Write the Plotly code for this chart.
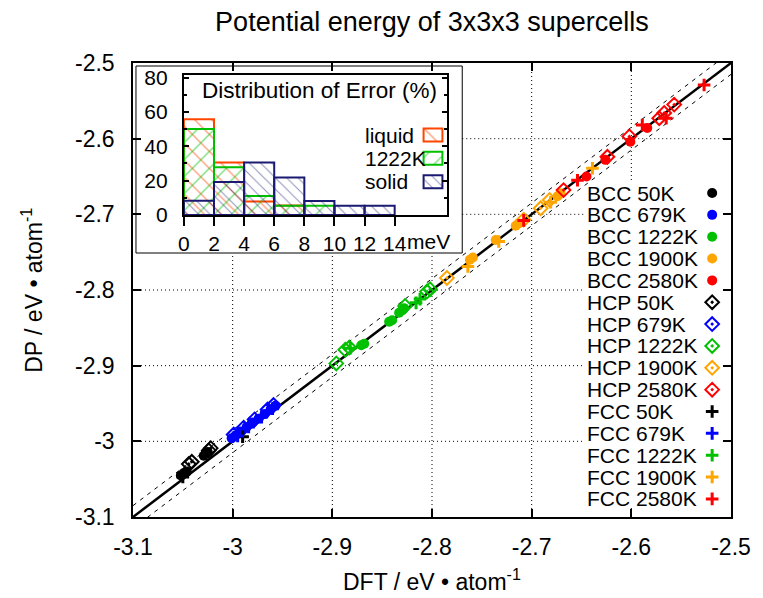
import plotly.graph_objects as go

# ---------------- data ----------------
axis_ticks = [-3.1, -3.0, -2.9, -2.8, -2.7, -2.6, -2.5]
axis_tick_labels = ["-3.1", "-3", "-2.9", "-2.8", "-2.7", "-2.6", "-2.5"]
grid_ticks = [-3.0, -2.9, -2.8, -2.7, -2.6]

series_labels = ["BCC 50K", "BCC 679K", "BCC 1222K", "BCC 1900K", "BCC 2580K",
                 "HCP 50K", "HCP 679K", "HCP 1222K", "HCP 1900K", "HCP 2580K",
                 "FCC 50K", "FCC 679K", "FCC 1222K", "FCC 1900K", "FCC 2580K"]

bcc_50k_dft = [-3.052, -3.049, -3.046, -3.029, -3.027, -3.025]
bcc_50k_dp = [-3.045, -3.042, -3.040, -3.019, -3.016, -3.014]
bcc_679k_dft = [-3.001, -2.997, -2.992, -2.986, -2.980, -2.974, -2.968, -2.962, -2.957]
bcc_679k_dp = [-2.996, -2.992, -2.987, -2.981, -2.975, -2.970, -2.964, -2.958, -2.953]
bcc_1222k_dft = [-2.871, -2.868, -2.843, -2.840, -2.833, -2.830, -2.828]
bcc_1222k_dp = [-2.873, -2.871, -2.842, -2.840, -2.830, -2.827, -2.824]
bcc_1900k_dft = [-2.762, -2.759, -2.736, -2.716, -2.713, -2.674, -2.671]
bcc_1900k_dp = [-2.760, -2.757, -2.734, -2.715, -2.712, -2.676, -2.672]
bcc_2580k_dft = [-2.645, -2.626, -2.601, -2.584]
bcc_2580k_dp = [-2.650, -2.628, -2.604, -2.586]

hcp_50k_dft = [-3.044, -3.041, -3.024, -3.022]
hcp_50k_dp = [-3.030, -3.027, -3.012, -3.009]
hcp_679k_dft = [-2.999, -2.989, -2.978, -2.965, -2.959]
hcp_679k_dp = [-2.991, -2.982, -2.971, -2.958, -2.952]
hcp_1222k_dft = [-2.896, -2.887, -2.883, -2.827, -2.805, -2.802]
hcp_1222k_dp = [-2.897, -2.879, -2.876, -2.821, -2.802, -2.799]
hcp_1900k_dft = [-2.785, -2.708, -2.691, -2.682]
hcp_1900k_dp = [-2.784, -2.707, -2.692, -2.681]
hcp_2580k_dft = [-2.668, -2.624, -2.602, -2.572, -2.567, -2.557]
hcp_2580k_dp = [-2.668, -2.624, -2.597, -2.573, -2.566, -2.555]

fcc_50k_dft = [-3.050, -2.990]
fcc_50k_dp = [-3.047, -2.994]
fcc_679k_dft = [-2.995, -2.984, -2.971, -2.960]
fcc_679k_dp = [-2.993, -2.981, -2.968, -2.957]
fcc_1222k_dft = [-2.882, -2.816, -2.812]
fcc_1222k_dp = [-2.877, -2.817, -2.812]
fcc_1900k_dft = [-2.764, -2.733, -2.681, -2.639]
fcc_1900k_dp = [-2.769, -2.736, -2.684, -2.639]
fcc_2580k_dft = [-2.708, -2.654, -2.589, -2.565, -2.527]
fcc_2580k_dp = [-2.708, -2.655, -2.582, -2.573, -2.529]

parity_offset = 0.015

error_bin_centers = [1, 3, 5, 7, 9, 11, 13]
error_liquid = [55.7, 30.5, 7.8, 5.5, None, None, None]
error_1222k = [50.1, 27.8, 11.1, 5.4, 5.4, None, None]
error_solid = [8.3, 19.2, 30.5, 21.9, 8.2, 5.4, 5.4]
error_ticks = [0, 2, 4, 6, 8, 10, 12, 14]
percent_ticks = [0, 20, 40, 60, 80]
hist_labels = ["liquid", "1222K", "solid"]

# ---------------- styles / geometry ----------------
W, H = 763, 598
L, R, T, B = 133, 736, 63, 517
XR = [-3.1, -2.5]
YR = [-3.1, -2.5]
FONT = "Liberation Sans, Arial, sans-serif"


def xp(px):
    return (px - L) / (R - L)


def yp(py):
    return (B - py) / (B - T)


def xv(px):
    return XR[0] + (px - L) / (R - L) * (XR[1] - XR[0])


def yv(py):
    return YR[1] - (py - T) / (B - T) * (YR[1] - YR[0])


# inset geometry (pixels)
IL, IR, IT, IB = 184.3, 450, 75, 215
IXR = [0, 17.5]
IYR = [0, 81.5]


def ixv(px):
    return IXR[0] + (px - IL) / (IR - IL) * (IXR[1] - IXR[0])


def iyv(py):
    return IYR[0] + (IB - py) / (IB - IT) * (IYR[1] - IYR[0])


colors = ["black", "#0000FF", "#00C000", "#FFA500", "#FF0000"]
hist_colors = ["#FF4500", "#00C000", "#1A1A72"]


def circ(c):
    return dict(symbol="circle", size=10, color=c, line=dict(width=0))


def diam(c):
    return dict(symbol="diamond-open-dot", size=10.5, color=c, line=dict(width=2, color=c))


def plus(c):
    return dict(symbol="cross-thin", size=9, color=c, line=dict(width=3, color=c))


series_xy = [
    (bcc_50k_dft, bcc_50k_dp), (bcc_679k_dft, bcc_679k_dp), (bcc_1222k_dft, bcc_1222k_dp),
    (bcc_1900k_dft, bcc_1900k_dp), (bcc_2580k_dft, bcc_2580k_dp),
    (hcp_50k_dft, hcp_50k_dp), (hcp_679k_dft, hcp_679k_dp), (hcp_1222k_dft, hcp_1222k_dp),
    (hcp_1900k_dft, hcp_1900k_dp), (hcp_2580k_dft, hcp_2580k_dp),
    (fcc_50k_dft, fcc_50k_dp), (fcc_679k_dft, fcc_679k_dp), (fcc_1222k_dft, fcc_1222k_dp),
    (fcc_1900k_dft, fcc_1900k_dp), (fcc_2580k_dft, fcc_2580k_dp),
]
styles = [circ(c) for c in colors] + [diam(c) for c in colors] + [plus(c) for c in colors]

fig = go.Figure()

# parity lines
fig.add_trace(go.Scatter(x=XR, y=[XR[0] + parity_offset, XR[1] + parity_offset], mode="lines",
                         line=dict(color="black", width=1, dash="4px,5px"), showlegend=False,
                         hoverinfo="skip"))
fig.add_trace(go.Scatter(x=XR, y=[XR[0] - parity_offset, XR[1] - parity_offset], mode="lines",
                         line=dict(color="black", width=1, dash="4px,5px"), showlegend=False,
                         hoverinfo="skip"))
fig.add_trace(go.Scatter(x=XR, y=YR, mode="lines", line=dict(color="black", width=2.5),
                         showlegend=False, hoverinfo="skip"))

for (sx, sy), st, name in zip(series_xy, styles, series_labels):
    fig.add_trace(go.Scatter(x=sx, y=sy, mode="markers", marker=st, name=name,
                             showlegend=False))

# manual key (symbols on the right, like the original)
row0, drow = 193, 21.85
annotations = []
for i, (st, name) in enumerate(zip(styles, series_labels)):
    py = row0 + drow * i
    fig.add_trace(go.Scatter(x=[xp(717)], y=[yp(py)], mode="markers", marker=st,
                             xaxis="x3", yaxis="y3", showlegend=False, hoverinfo="skip"))
    annotations.append(dict(x=xp(589), y=yp(py), xref="paper", yref="paper", text=name,
                            showarrow=False, xanchor="left", yanchor="middle",
                            font=dict(size=21, color="black", family=FONT)))

# inset histogram
hist_series = [(error_liquid, "\\", 12), (error_1222k, "/", 12), (error_solid, "\\", 8)]
for (vals, shape, sz), c, name in zip(hist_series, hist_colors, hist_labels):
    fig.add_trace(go.Bar(x=error_bin_centers, y=vals, width=2, xaxis="x2", yaxis="y2",
                         name=name, showlegend=False, opacity=1,
                         marker=dict(color="rgba(0,0,0,0)", line=dict(color=c, width=2),
                                     pattern=dict(shape=shape, fgcolor=c, size=sz, solidity=0.12,
                                                  fillmode="overlay", bgcolor="rgba(0,0,0,0)"))))

key_rows = [135, 158.3, 181.7]
for (vals, shape, sz), c, name, py in zip(hist_series, hist_colors, hist_labels, key_rows):
    x0, x1 = ixv(426), ixv(445)
    y0, y1 = iyv(py + 6.5), iyv(py - 6.5)
    fig.add_trace(go.Bar(x=[(x0 + x1) / 2], y=[y1 - y0], base=[y0], width=x1 - x0,
                         xaxis="x2", yaxis="y2", showlegend=False, hoverinfo="skip", opacity=1,
                         marker=dict(color="rgba(0,0,0,0)", line=dict(color=c, width=2),
                                     pattern=dict(shape=shape, fgcolor=c, size=sz, solidity=0.12,
                                                  fillmode="overlay", bgcolor="rgba(0,0,0,0)"))))
    annotations.append(dict(x=xp(365), y=yp(py), xref="paper", yref="paper", text=name,
                            showarrow=False, xanchor="left", yanchor="middle",
                            font=dict(size=21, color="black", family=FONT)))

annotations.append(dict(x=xp(442), y=yp(90), xref="paper", yref="paper",
                        text="Distribution of Error (%)", showarrow=False, xanchor="right",
                        yanchor="middle", font=dict(size=22.5, color="black", family=FONT)))
annotations.append(dict(x=xp(407), y=yp(242), xref="paper", yref="paper", text="meV",
                        showarrow=False, xanchor="left", yanchor="middle",
                        font=dict(size=21, color="black", family=FONT)))
annotations.append(dict(x=0.5, y=yp(580), xref="paper", yref="paper",
                        text="DFT / eV \u2022 atom<sup>-1</sup>", showarrow=False,
                        xanchor="center", yanchor="middle",
                        font=dict(size=23, color="black", family=FONT)))
annotations.append(dict(x=xp(31), y=0.5, xref="paper", yref="paper",
                        text="DP / eV \u2022 atom<sup>-1</sup>", showarrow=False, textangle=-90,
                        xanchor="center", yanchor="middle",
                        font=dict(size=23, color="black", family=FONT)))

# dotted grid, interrupted by the inset frame and the key box
frame_r, frame_b = xv(465), yv(253)
key_l, key_t, key_b = xv(587), yv(180), yv(508)
grid_segments = []
for g in grid_ticks:
    # vertical
    if g < frame_r:
        grid_segments.append((g, YR[0], g, frame_b))
    elif g > key_l:
        grid_segments.append((g, YR[0], g, key_b))
        grid_segments.append((g, key_t, g, YR[1]))
    else:
        grid_segments.append((g, YR[0], g, YR[1]))
    # horizontal
    if g > frame_b:
        if g > key_t:
            grid_segments.append((frame_r, g, XR[1], g))
        else:
            grid_segments.append((frame_r, g, key_l, g))
    else:
        grid_segments.append((XR[0], g, key_l, g))

shapes = [dict(type="line", xref="x", yref="y", x0=a, y0=b, x1=c, y1=d, layer="below",
               line=dict(color="black", width=1, dash="1px,3px")) for a, b, c, d in grid_segments]
shapes.append(dict(type="rect", xref="paper", yref="paper", x0=xp(136), x1=xp(465),
                   y0=yp(253), y1=yp(66), line=dict(color="black", width=1),
                   fillcolor="rgba(0,0,0,0)", layer="below"))

tickfont = dict(size=23, color="black", family=FONT)
inset_tickfont = dict(size=21, color="black", family=FONT)
fig.update_layout(
    width=W, height=H,
    margin=dict(l=L, r=W - R, t=T, b=H - B),
    paper_bgcolor="white", plot_bgcolor="rgba(0,0,0,0)",
    barmode="overlay",
    title=dict(text="Potential energy of 3x3x3 supercells", x=xp((L + R) / 2), xref="paper",
               y=1 - 22 / H, yref="container", xanchor="center", yanchor="middle",
               font=dict(size=27, color="black", family=FONT)),
    xaxis=dict(domain=[0, 1], anchor="y", range=XR, tickvals=axis_ticks,
               ticktext=axis_tick_labels, ticks="inside", ticklen=8, tickwidth=1.5,
               tickcolor="black", showline=True, linecolor="black", linewidth=1.5,
               mirror="ticks", showgrid=False, zeroline=False, tickfont=tickfont,
               ticklabelstandoff=9),
    yaxis=dict(domain=[0, 1], anchor="x", range=YR, tickvals=axis_ticks,
               ticktext=axis_tick_labels, ticks="inside", ticklen=8, tickwidth=1.5,
               tickcolor="black", showline=True, linecolor="black", linewidth=1.5,
               mirror="ticks", showgrid=False, zeroline=False, tickfont=tickfont,
               ticklabelstandoff=12),
    xaxis2=dict(domain=[xp(IL), xp(IR)], anchor="y2", range=IXR, tickvals=error_ticks,
                ticks="outside", ticklen=9, tickwidth=1.5, tickcolor="black", showline=True,
                linecolor="black", linewidth=2, mirror=True, showgrid=False, zeroline=False,
                tickfont=inset_tickfont, fixedrange=True),
    yaxis2=dict(domain=[yp(IB), yp(IT)], anchor="x2", range=IYR, tickvals=percent_ticks,
                ticks="inside", ticklen=5, tickwidth=1.5, tickcolor="black", showline=True,
                linecolor="black", linewidth=2, mirror="ticks", showgrid=False, zeroline=False,
                tickfont=inset_tickfont, fixedrange=True, ticklabelstandoff=10,
                minor=dict(dtick=10, ticks="inside", ticklen=3, tickcolor="black")),
    xaxis3=dict(domain=[0, 1], anchor="y3", range=[0, 1], visible=False, fixedrange=True),
    yaxis3=dict(domain=[0, 1], anchor="x3", range=[0, 1], visible=False, fixedrange=True),
    shapes=shapes,
    annotations=annotations,
    showlegend=False,
)

fig.write_html("out.html")
